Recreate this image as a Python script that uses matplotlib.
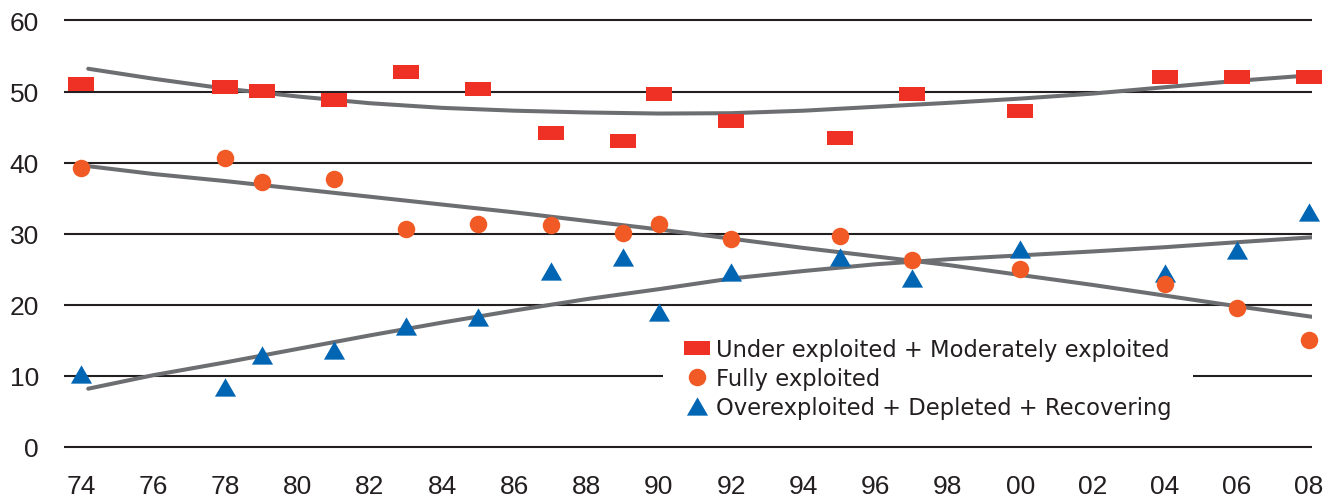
import matplotlib
matplotlib.use("Agg")
import matplotlib.pyplot as plt
from matplotlib.lines import Line2D

plt.rcParams['font.family'] = ['Liberation Sans', 'DejaVu Sans']

# ---- data ----
years = [1974, 1978, 1979, 1981, 1983, 1985, 1987, 1989, 1990, 1992, 1995, 1997, 2000, 2004, 2006, 2008]
under_moderate = [51.0, 50.6, 50.1, 48.8, 52.8, 50.4, 44.2, 43.0, 49.7, 45.9, 43.5, 49.7, 47.3, 52.1, 52.1, 52.1]
fully = [39.2, 40.7, 37.3, 37.7, 30.6, 31.4, 31.2, 30.1, 31.3, 29.3, 29.7, 26.3, 25.0, 22.9, 19.6, 15.0]
over_depleted = [10.2, 8.4, 12.9, 13.6, 17.0, 18.3, 24.7, 26.7, 19.0, 24.6, 26.7, 23.8, 27.8, 24.5, 27.7, 33.1]

# trend lines
trend_years = [1974.2, 1976, 1978, 1980, 1982, 1984, 1986, 1988, 1990, 1992, 1994, 1996, 1998, 2000, 2002, 2004, 2006, 2008.1]
trend_under = [53.2, 51.8, 50.4, 49.3, 48.35, 47.7, 47.3, 47.05, 46.9, 46.95, 47.3, 47.85, 48.4, 49.0, 49.7, 50.6, 51.5, 52.3]
trend_fully = [39.5, 38.4, 37.4, 36.3, 35.2, 34.1, 33.0, 31.8, 30.6, 29.3, 28.0, 26.8, 25.6, 24.2, 22.8, 21.3, 19.8, 18.3]
trend_over = [8.2, 10.1, 11.9, 13.8, 15.7, 17.5, 19.2, 20.8, 22.2, 23.7, 24.75, 25.7, 26.4, 26.95, 27.5, 28.1, 28.8, 29.5]

xtick_years = list(range(1974, 2009, 2))
xtick_labels = [f"{y % 100:02d}" for y in xtick_years]
yticks = [0, 10, 20, 30, 40, 50, 60]

labels = ["Under exploited + Moderately exploited", "Fully exploited",
          "Overexploited + Depleted + Recovering"]

RED = '#ee3124'
ORANGE = '#f15a24'
BLUE = '#0066b3'
GREY = '#6d6e71'
INK = '#231f20'

rect_marker = [(-1, -0.58), (1, -0.58), (1, 0.58), (-1, 0.58), (-1, -0.58)]
tri_marker = [(-1, -0.866), (1, -0.866), (0, 0.866), (-1, -0.866)]

W, H = 1328, 502
fig = plt.figure(figsize=(W / 100, H / 100), dpi=100)
ppu = 7.11
ylo, yhi = -1, 61
bottom_px = 448 + ppu * (0 - ylo)
ax = fig.add_axes([64 / W, (H - bottom_px) / H, (1312 - 64) / W, (yhi - ylo) * ppu / H])
ax.set_xlim(1973.53, 2008.08)
ax.set_ylim(ylo, yhi)

for s in ax.spines.values():
    s.set_visible(False)
ax.set_yticks(yticks)
ax.set_xticks(xtick_years)
ax.set_xticklabels(xtick_labels)
ax.grid(axis='y', color=INK, linewidth=1.5, zorder=1)
ax.grid(axis='x', visible=False)
ax.set_axisbelow(True)
ax.tick_params(axis='both', length=0, labelsize=19, colors=INK)
ax.tick_params(axis='y', pad=18)
ax.tick_params(axis='x', pad=14)

lw = 2.9
ax.plot(trend_years, trend_under, color=GREY, lw=lw, solid_capstyle='round', zorder=2)
ax.plot(trend_years, trend_fully, color=GREY, lw=lw, solid_capstyle='round', zorder=2)
ax.plot(trend_years, trend_over, color=GREY, lw=lw, solid_capstyle='round', zorder=2)

ax.plot(years, over_depleted, linestyle='none', marker=tri_marker, ms=15.2,
        color=BLUE, mew=0, zorder=3, clip_on=False)
ax.plot(years, under_moderate, linestyle='none', marker=rect_marker, ms=18.3,
        color=RED, mew=0, zorder=3, clip_on=False)
ax.plot(years, fully, linestyle='none', marker='o', ms=12.6,
        color=ORANGE, mew=0, zorder=4, clip_on=False)

handles = [
    Line2D([], [], linestyle='none', marker=rect_marker, ms=18.3, color=RED, mew=0),
    Line2D([], [], linestyle='none', marker='o', ms=12.6, color=ORANGE, mew=0),
    Line2D([], [], linestyle='none', marker=tri_marker, ms=15.2, color=BLUE, mew=0),
]
fs = 16.3
leg = ax.legend(handles, labels, loc='upper left',
                bbox_to_anchor=(663 / W, 1 - 318 / H), bbox_transform=fig.transFigure,
                prop={'family': 'DejaVu Sans', 'size': fs},
                frameon=True, facecolor='white', edgecolor='none',
                framealpha=1, fancybox=False, borderpad=0.93, borderaxespad=0,
                handlelength=1.15, handletextpad=0.27, labelspacing=0.27)
for t in leg.get_texts():
    t.set_color(INK)
leg.set_zorder(2.5)

fig.savefig('out.png', dpi=100)
